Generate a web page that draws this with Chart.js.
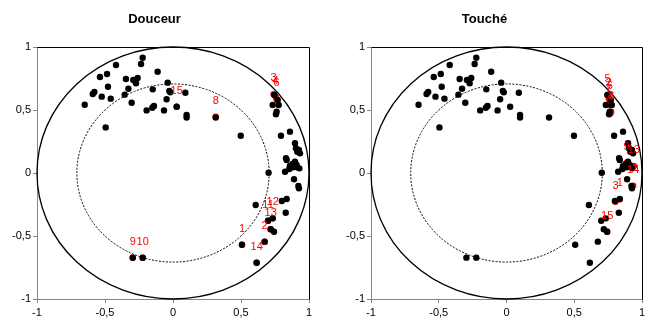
<!DOCTYPE html>
<html>
<head>
<meta charset="utf-8">
<script src="https://cdn.jsdelivr.net/npm/chart.js@4.4.1/dist/chart.umd.min.js"></script>
<style>
  html, body { margin: 0; padding: 0; background: #fff; }
  #wrap { position: relative; width: 654px; height: 327px; }
  .panel { position: absolute; top: 0; width: 327px; height: 327px; }
</style>
</head>
<body>
<div id="wrap">
  <div class="panel" style="left:0"><canvas id="c1" width="327" height="327"></canvas></div>
  <div class="panel" style="left:327px"><canvas id="c2" width="327" height="327"></canvas></div>
</div>
<script>
// ---- tick labels ----
const tickValues = [-1, -0.5, 0, 0.5, 1];
const tickLabels = ['-1', '-0,5', '0', '0,5', '1'];

// ---- panel titles ----
const titles = ['Douceur', 'Touché'];

// ---- variables (black points), same in both panels ----
const varX = [
  -0.223, -0.235, -0.419, -0.113, -0.485, -0.537, -0.346, -0.292, -0.260, -0.272,
  -0.039, -0.328, -0.478, -0.578, -0.590, -0.524, -0.458, -0.355, -0.149, -0.027,
  -0.020, 0.091, -0.047, -0.304, -0.649, -0.140, -0.152, -0.194, -0.066, 0.100,
  0.100, -0.495, 0.027, 0.314, 0.498,
  0.745, 0.733, 0.770, 0.777, 0.762, 0.757, 0.860, 0.794, 0.897, 0.904,
  0.926, 0.914, 0.934, 0.831, 0.836, 0.897, 0.880, 0.909, 0.860, 0.885,
  0.914, 0.929, 0.855, 0.824, 0.703, 0.890, 0.922, 0.926, 0.800, 0.836,
  0.608, 0.829, 0.699, 0.733, 0.718, 0.743, 0.674, 0.615, 0.507, -0.296,
  -0.223
];
const varY = [
  0.915, 0.865, 0.857, 0.804, 0.786, 0.762, 0.746, 0.738, 0.754, 0.712,
  0.717, 0.669, 0.685, 0.643, 0.627, 0.606, 0.590, 0.622, 0.664, 0.651,
  0.640, 0.637, 0.585, 0.558, 0.542, 0.532, 0.518, 0.497, 0.497, 0.460,
  0.440, 0.362, 0.526, 0.440, 0.296,
  0.619, 0.540, 0.580, 0.540, 0.487, 0.466, 0.328, 0.296, 0.236, 0.196,
  0.183, 0.169, 0.156, 0.117, 0.103, 0.090, 0.071, 0.063, 0.056, 0.045,
  0.045, 0.037, 0.032, 0.010, 0.002, -0.050, -0.103, -0.122, -0.222, -0.206,
  -0.254, -0.315, -0.379, -0.360, -0.447, -0.466, -0.545, -0.712, -0.569, -0.672,
  -0.672
];

// ---- Douceur highlighted (red) points ----
const douceurLabels = ['1', '2', '3', '4', '6', '8', '9', '10', '11', '12', '13', '14', '15'];
const douceurX = [0.507, 0.674, 0.740, 0.755, 0.762, 0.314, -0.296, -0.223, 0.699, 0.733, 0.718, 0.615, 0.027];
const douceurY = [-0.569, -0.545, 0.625, 0.605, 0.585, 0.447, -0.672, -0.672, -0.379, -0.360, -0.447, -0.712, 0.526];

// ---- Touché highlighted (red) points ----
const toucheLabels = ['1', '3', '15', '14', '13', '9', '5', '2', '6', '7', '8', '4'];
const toucheX = [0.836, 0.804, 0.743, 0.935, 0.940, 0.886, 0.745, 0.755, 0.763, 0.755, 0.772, 0.768];
const toucheY = [-0.209, -0.228, -0.466, -0.100, 0.055, 0.079, 0.619, 0.590, 0.566, 0.540, 0.487, 0.474];

const innerRadius = 0.707;

function toPoints(xs, ys) { return xs.map((x, i) => ({ x: x, y: ys[i] })); }

const circlePlugin = {
  id: 'circles',
  beforeDatasetsDraw(chart) {
    const { ctx, scales: { x, y }, chartArea } = chart;
    const cx = x.getPixelForValue(0), cy = y.getPixelForValue(0);
    const rx = x.getPixelForValue(1) - cx, ry = cy - y.getPixelForValue(1);
    ctx.save();
    ctx.strokeStyle = '#000';
    ctx.lineWidth = 1.3;
    ctx.beginPath();
    ctx.ellipse(cx, cy, rx, ry, 0, 0, Math.PI * 2);
    ctx.stroke();
    ctx.lineWidth = 1;
    ctx.setLineDash([2, 1.5]);
    ctx.beginPath();
    ctx.ellipse(cx, cy, rx * innerRadius, ry * innerRadius, 0, 0, Math.PI * 2);
    ctx.stroke();
    ctx.setLineDash([]);
    // plot area top / right border
    ctx.strokeStyle = '#000';
    ctx.lineWidth = 1;
    ctx.beginPath();
    ctx.moveTo(Math.round(chartArea.left) + 0.5, Math.round(chartArea.top) + 0.5);
    ctx.lineTo(Math.round(chartArea.right) + 0.5, Math.round(chartArea.top) + 0.5);
    ctx.lineTo(Math.round(chartArea.right) + 0.5, Math.round(chartArea.bottom) + 0.5);
    ctx.stroke();
    ctx.restore();
  }
};

const labelPlugin = {
  id: 'pointLabels',
  afterDatasetsDraw(chart) {
    const { ctx } = chart;
    chart.data.datasets.forEach((ds, di) => {
      if (!ds.pointLabels) return;
      const meta = chart.getDatasetMeta(di);
      ctx.save();
      ctx.fillStyle = '#ff0000';
      ctx.font = '11px "Liberation Sans", Arial, sans-serif';
      ctx.textAlign = 'center';
      ctx.textBaseline = 'middle';
      meta.data.forEach((el, i) => {
        ctx.fillText(ds.pointLabels[i], el.x, el.y - 16);
      });
      ctx.restore();
    });
  }
};

function makeChart(id, title, redX, redY, redLabels, yWidth, rightPad) {
  const tickFont = { family: '"Liberation Sans", Arial, sans-serif', size: 11 };
  return new Chart(document.getElementById(id), {
    type: 'scatter',
    data: {
      datasets: [
        {
          data: toPoints(varX, varY),
          backgroundColor: '#000',
          borderColor: '#000',
          pointRadius: 3.2,
          pointBorderWidth: 0
        },
        {
          data: toPoints(redX, redY),
          pointLabels: redLabels,
          backgroundColor: '#ff0000',
          borderColor: '#ff0000',
          pointRadius: 3.2,
          pointBorderWidth: 0
        }
      ]
    },
    options: {
      responsive: false,
      devicePixelRatio: 1,
      animation: false,
      layout: { padding: { left: 0, right: rightPad, top: 0, bottom: 0 } },
      plugins: {
        legend: { display: false },
        tooltip: { enabled: false },
        title: {
          display: true,
          text: title,
          color: '#000',
          font: { family: '"Liberation Sans", Arial, sans-serif', size: 13, weight: 'bold' },
          padding: { top: 12, bottom: 19.4 }
        }
      },
      scales: {
        x: {
          type: 'linear', min: -1, max: 1,
          afterBuildTicks: s => { s.ticks = tickValues.map(v => ({ value: v })); },
          ticks: {
            callback: (v) => tickLabels[tickValues.indexOf(v)],
            color: '#000', font: tickFont, padding: 3, maxRotation: 0, autoSkip: false
          },
          grid: { drawOnChartArea: false, drawTicks: true, tickLength: 4, color: '#868686' },
          border: { display: true, color: '#868686' },
          afterFit: s => { s.height = 28; }
        },
        y: {
          type: 'linear', min: -1, max: 1,
          afterBuildTicks: s => { s.ticks = tickValues.map(v => ({ value: v })); },
          ticks: {
            callback: (v) => tickLabels[tickValues.indexOf(v)],
            color: '#000', font: tickFont, padding: 2, autoSkip: false
          },
          grid: { drawOnChartArea: false, drawTicks: true, tickLength: 4, color: '#868686' },
          border: { display: true, color: '#868686' },
          afterFit: s => { s.width = yWidth; }
        }
      }
    },
    plugins: [circlePlugin, labelPlugin]
  });
}

makeChart('c1', titles[0], douceurX, douceurY, douceurLabels, 37, 18);
makeChart('c2', titles[1], toucheX, toucheY, toucheLabels, 44, 12);
</script>
</body>
</html>
